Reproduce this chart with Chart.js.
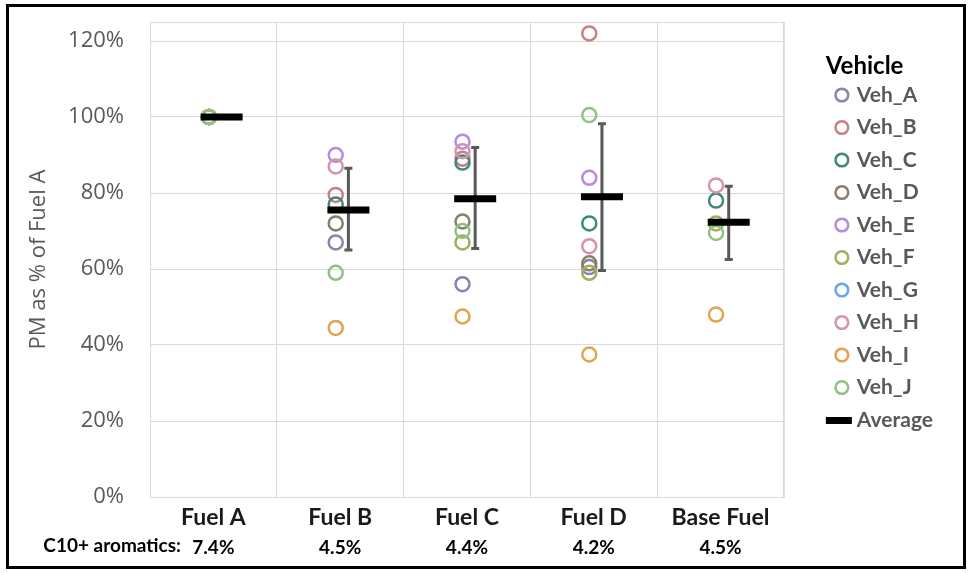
<!DOCTYPE html>
<html>
<head>
<meta charset="utf-8">
<script src="https://cdn.jsdelivr.net/npm/chart.js@4.4.1/dist/chart.umd.min.js"></script>
<style>
  html, body { margin: 0; padding: 0; background: #fff; }
  #frame { position: absolute; left: 6px; top: 4px; width: 960px; height: 565px; box-sizing: border-box; border: 3px solid #000; background: #fff; }
  #frame canvas { display: block; }
</style>
</head>
<body>
<div id="frame"><canvas id="chart" width="954" height="559"></canvas></div>
<script>
// --- DATA ---
const fuels = ['Fuel A', 'Fuel B', 'Fuel C', 'Fuel D', 'Base Fuel'];
const aromatics = ['7.4%', '4.5%', '4.4%', '4.2%', '4.5%'];
const yTicks = [0, 20, 40, 60, 80, 100, 120];

// PM as % of Fuel A, per vehicle, in fuel order
const vehA = [100, 67, 56, 60.5, null];
const vehB = [100, 79.5, 89, 122, null];
const vehC = [100, 77, 88, 72, 78];
const vehD = [100, 72, 72.5, 61.5, null];
const vehE = [100, 90, 93.5, 84, null];
const vehF = [100, null, 67, 59, 72];
const vehG = [100, null, null, null, null];
const vehH = [100, 87, 91, 66, 82];
const vehI = [100, 44.5, 47.5, 37.5, 48];
const vehJ = [100, 59, 70, 100.5, 69.5];

const average = [100, 75.5, 78.5, 79, 72.3];
const errHigh = [null, 86.5, 92, 98.2, 81.8];
const errLow = [null, 65, 65.4, 59.6, 62.5];

const vehicles = [
    { name: 'Veh_A', values: vehA, color: '#8585ad' },
    { name: 'Veh_B', values: vehB, color: '#c98080' },
    { name: 'Veh_C', values: vehC, color: '#3d8a7a' },
    { name: 'Veh_D', values: vehD, color: '#8a7e6a' },
    { name: 'Veh_E', values: vehE, color: '#b88ae0' },
    { name: 'Veh_F', values: vehF, color: '#a3ad5c' },
    { name: 'Veh_G', values: vehG, color: '#6aa6ea' },
    { name: 'Veh_H', values: vehH, color: '#d693ac' },
    { name: 'Veh_I', values: vehI, color: '#e2a452' },
    { name: 'Veh_J', values: vehJ, color: '#8fc283' }
];

const FONT = 'Lato, "Liberation Sans", sans-serif';
const WIDE = '"Open Sans", "Liberation Sans", sans-serif';
const GRID = '#d9d9d9';
const POINT_SHIFT = -0.035;   // vehicle markers sit a little left of the category centre
const AVG_SHIFT = 0.065;      // average bar + error bar a little right

// legend marker for Average: a wide black bar (left part of a wider transparent image)
const avgMarker = document.createElement('canvas');
avgMarker.width = 40; avgMarker.height = 7;
avgMarker.getContext('2d').fillRect(0, 0, 30, 7);

function toPoints(values, shift) {
    const pts = [];
    values.forEach((v, i) => { if (v != null) pts.push({ x: i + 1 + shift, y: v }); });
    return pts;
}

const datasets = vehicles.map((v, k) => ({
    label: v.name,
    data: toPoints(v.values, POINT_SHIFT),
    pointStyle: 'circle',
    pointRadius: 7,
    pointHoverRadius: 7,
    pointBorderWidth: 2.5,
    borderWidth: 2.5,
    borderColor: v.color,
    backgroundColor: 'rgba(0,0,0,0)',
    order: vehicles.length - k
}));
datasets.push({
    label: 'Average',
    data: toPoints(average, AVG_SHIFT),
    pointStyle: 'line',
    pointRadius: 21,
    pointHoverRadius: 21,
    pointBorderWidth: 7,
    borderWidth: 7,
    borderColor: '#000',
    backgroundColor: '#000',
    order: 0
});

// --- PLUGIN: error bars, plot border, row caption ---
const extras = {
    id: 'extras',
    beforeDatasetsDraw(chart) {
        const { ctx, chartArea: a, scales: { x, y } } = chart;
        ctx.save();
        ctx.strokeStyle = GRID;
        ctx.lineWidth = 1;
        ctx.strokeRect(a.left + 0.5, a.top + 0.5, a.right - a.left, a.bottom - a.top);
        ctx.strokeStyle = '#595959';
        ctx.lineWidth = 3;
        errHigh.forEach((hi, i) => {
            if (hi == null) return;
            const px = x.getPixelForValue(i + 1 + AVG_SHIFT);
            const yh = y.getPixelForValue(hi), yl = y.getPixelForValue(errLow[i]);
            ctx.beginPath();
            ctx.moveTo(px, yh); ctx.lineTo(px, yl);
            ctx.moveTo(px - 4, yh); ctx.lineTo(px + 4, yh);
            ctx.moveTo(px - 4, yl); ctx.lineTo(px + 4, yl);
            ctx.stroke();
        });
        ctx.restore();
    },
    afterDraw(chart) {
        const s = chart.scales.xa;
        const ctx = chart.ctx;
        ctx.save();
        ctx.font = 'bold 19px ' + FONT;
        ctx.fillStyle = '#000';
        ctx.textAlign = 'right';
        ctx.textBaseline = 'top';
        ctx.fillText('C10+ aromatics:', 172, s.top + s.options.ticks.padding);
        ctx.restore();
    }
};

const noPad = s => { s.paddingTop = 0; s.paddingBottom = 0; s.paddingLeft = 0; s.paddingRight = 0; };

new Chart(document.getElementById('chart'), {
    type: 'scatter',
    data: { datasets },
    plugins: [extras],
    options: {
        responsive: false,
        animation: false,
        devicePixelRatio: 1,
        layout: { autoPadding: false, padding: { top: 15, right: 20, bottom: 9, left: 0 } },
        scales: {
            x: {
                type: 'linear', min: 0.5, max: 5.5, weight: 0,
                afterBuildTicks: s => { s.ticks = fuels.map((f, i) => ({ value: i + 0.5 })).concat([{ value: fuels.length + 0.5 }]); },
                ticks: { display: false },
                grid: { color: GRID, drawTicks: false },
                border: { display: false },
                afterFit: s => { s.height = 0; noPad(s); }
            },
            xl: {
                type: 'linear', position: 'bottom', min: 0.5, max: 5.5, weight: 1,
                afterBuildTicks: s => { s.ticks = fuels.map((f, i) => ({ value: i + 1 })); },
                ticks: { callback: (v, i) => fuels[i], color: '#1a1a1a', font: { family: FONT, size: 23, weight: 'bold' }, padding: 7, maxRotation: 0, autoSkip: false },
                grid: { display: false, drawTicks: false },
                border: { display: false },
                afterFit: s => { s.height = 30; noPad(s); }
            },
            xa: {
                type: 'linear', position: 'bottom', min: 0.5, max: 5.5, weight: 2,
                afterBuildTicks: s => { s.ticks = aromatics.map((a, i) => ({ value: i + 1 })); },
                ticks: { callback: (v, i) => aromatics[i], color: '#000', font: { family: FONT, size: 19, weight: 'bold' }, padding: 9, maxRotation: 0, autoSkip: false },
                grid: { display: false, drawTicks: false },
                border: { display: false },
                afterFit: s => { s.height = 30; noPad(s); }
            },
            y: {
                min: 0, max: 125,
                afterBuildTicks: s => { s.ticks = yTicks.map(v => ({ value: v })); },
                ticks: { callback: v => v + '%', color: '#595959', font: { family: WIDE, size: 22 }, padding: 26 },
                grid: { color: GRID, drawTicks: false },
                border: { display: false },
                title: { display: true, text: 'PM as % of Fuel A', color: '#595959', font: { family: WIDE, size: 22 }, padding: { top: 17, bottom: 0 } },
                afterFit: s => { s.width = 141; noPad(s); }
            },
            yGap: {
                type: 'linear', position: 'right', display: true,
                ticks: { display: false },
                grid: { display: false, drawTicks: false },
                border: { display: false },
                afterFit: s => { s.width = 42; noPad(s); }
            }
        },
        plugins: {
            tooltip: { enabled: false },
            legend: {
                position: 'right',
                align: 'start',
                title: { display: true, text: 'Vehicle', position: 'start', color: '#000', font: { family: FONT, size: 24, weight: 'bold', lineHeight: 1 }, padding: { top: 32, bottom: -5 } },
                labels: {
                    usePointStyle: true,
                    boxWidth: 9,
                    boxHeight: 9,
                    padding: 11.5,
                    color: '#595959',
                    font: { family: FONT, size: 21, weight: 'bold' },
                    sort: (a, b) => a.datasetIndex - b.datasetIndex,
                    generateLabels(chart) {
                        const items = Chart.defaults.plugins.legend.labels.generateLabels(chart);
                        items.forEach(it => {
                            if (it.text === 'Average') { it.pointStyle = avgMarker; }
                            else { it.lineWidth = 2.5; it.fillStyle = 'rgba(0,0,0,0)'; }
                        });
                        return items;
                    }
                }
            }
        }
    }
});
</script>
</body>
</html>
